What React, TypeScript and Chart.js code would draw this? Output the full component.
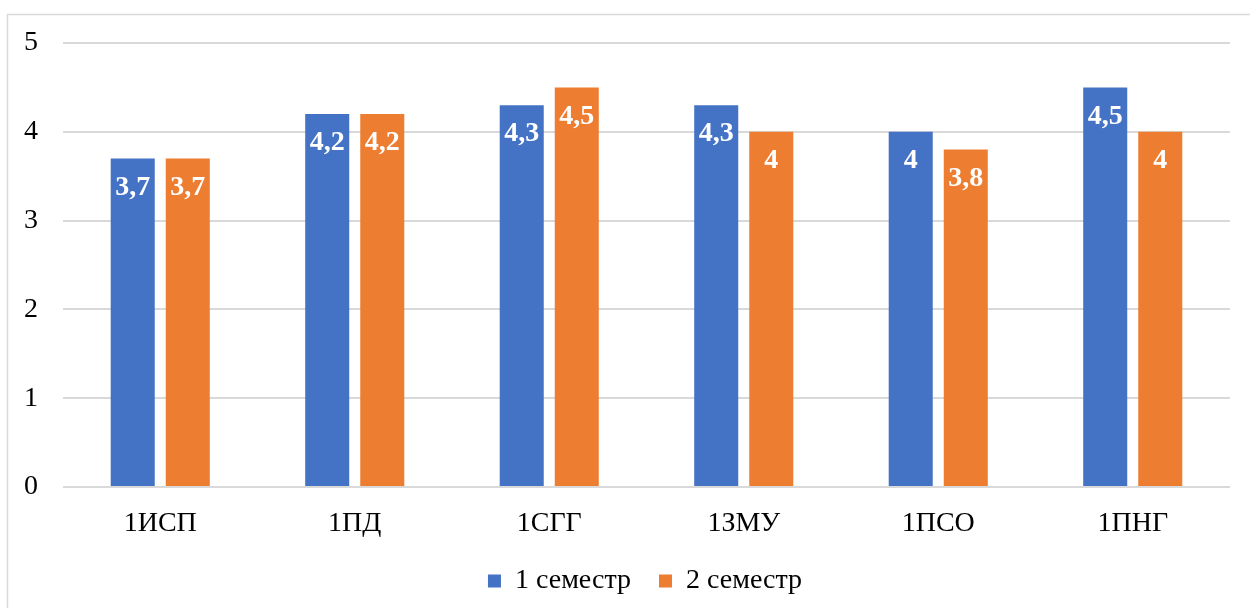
import React, { useEffect, useRef } from "react";
import { Chart, registerables } from "chart.js";

Chart.register(...registerables);

const categories = ["1ИСП", "1ПД", "1СГГ", "1ЗМУ", "1ПСО", "1ПНГ"];
const semester1 = [3.7, 4.2, 4.3, 4.3, 4.0, 4.5];
const semester2 = [3.7, 4.2, 4.5, 4.0, 3.8, 4.0];
const seriesNames = ["1 семестр", "2 семестр"];
const yTicks = [0, 1, 2, 3, 4, 5];

const FONT = "'Liberation Serif', 'Times New Roman', serif";

const borderPlugin = {
  id: "outerBorder",
  beforeDraw(chart: any) {
    const ctx = chart.ctx;
    ctx.save();
    ctx.strokeStyle = "#d9d9d9";
    ctx.lineWidth = 1.5;
    ctx.beginPath();
    ctx.moveTo(7.5, chart.height);
    ctx.lineTo(7.5, 14.5);
    ctx.lineTo(chart.width, 14.5);
    ctx.stroke();
    ctx.restore();
  },
};

const legendShiftPlugin = {
  id: "legendShift",
  afterLayout(chart: any) {
    if (chart.legend) {
      chart.legend.left += 30;
      chart.legend.right += 30;
    }
  },
};

const labelPlugin = {
  id: "barLabels",
  afterDatasetsDraw(chart: any) {
    const ctx = chart.ctx;
    ctx.save();
    ctx.fillStyle = "#ffffff";
    ctx.font = `bold 28px ${FONT}`;
    ctx.textAlign = "center";
    ctx.textBaseline = "middle";
    chart.data.datasets.forEach((ds: any, di: number) => {
      const meta = chart.getDatasetMeta(di);
      meta.data.forEach((el: any, i: number) => {
        const v = ds.data[i] as number;
        const txt = String(v).replace(".", ",");
        ctx.fillText(txt, el.x, el.y + 29);
      });
    });
    ctx.restore();
  },
};

export default function App() {
  const ref = useRef<HTMLCanvasElement>(null);
  useEffect(() => {
    document.body.style.overflow = "hidden";
    const chart = new Chart(ref.current!, {
      type: "bar",
      data: {
        labels: categories,
        datasets: [
          { label: seriesNames[0], data: semester1, backgroundColor: "#4472C4" },
          { label: seriesNames[1], data: semester2, backgroundColor: "#ED7D31" },
        ],
      },
      options: {
        animation: false,
        responsive: false,
        maintainAspectRatio: false,
        layout: { padding: { left: 0, right: 20, top: 43, bottom: 3 } },
        datasets: { bar: { categoryPercentage: 0.566, barPercentage: 0.8 } },
        scales: {
          x: {
            grid: { display: false },
            border: { display: false },
            afterFit(scale: any) {
              scale.height = 52;
            },
            ticks: { color: "#000", font: { family: FONT, size: 28 }, padding: 12 },
          },
          y: {
            min: 0,
            max: 5,
            afterFit(scale: any) {
              scale.width = 63;
            },
            afterBuildTicks(scale: any) {
              scale.ticks = yTicks.map((v) => ({ value: v }));
            },
            grid: { color: "#d9d9d9", lineWidth: 2, drawTicks: false },
            border: { display: false },
            ticks: { color: "#000", font: { family: FONT, size: 28 }, padding: 25 },
          },
        },
        plugins: {
          legend: {
            position: "bottom",
            labels: {
              color: "#000",
              font: { family: FONT, size: 28 },
              boxWidth: 13,
              boxHeight: 13,
              padding: 28,
            },
          },
          tooltip: { enabled: false },
        },
      },
      plugins: [borderPlugin, legendShiftPlugin, labelPlugin],
    });
    return () => chart.destroy();
  }, []);
  return (
    <canvas
      ref={ref}
      width={1250}
      height={608}
      style={{ position: "fixed", left: 0, top: 0, width: 1250, height: 608 }}
    />
  );
}
